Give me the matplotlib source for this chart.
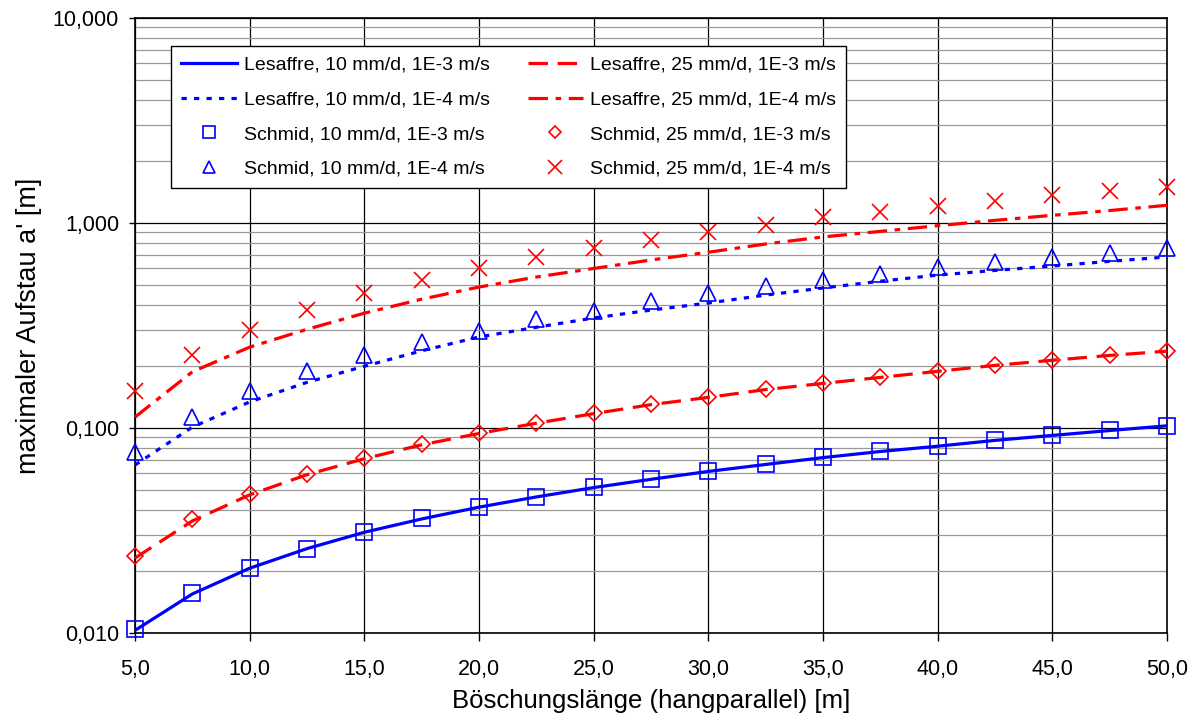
import matplotlib
matplotlib.use("Agg")
import matplotlib.pyplot as plt
from matplotlib.ticker import FixedLocator, FixedFormatter, NullFormatter

plt.rcParams["font.family"] = ["Liberation Sans", "DejaVu Sans"]
plt.rcParams["lines.scale_dashes"] = False

# slope length along the slope [m]
laenge = [5.0, 7.5, 10.0, 12.5, 15.0, 17.5, 20.0, 22.5, 25.0, 27.5,
          30.0, 32.5, 35.0, 37.5, 40.0, 42.5, 45.0, 47.5, 50.0]

# Lesaffre (lines)
les_10_1e3 = [0.0103, 0.0155, 0.0207, 0.0258, 0.0310, 0.0360, 0.0411, 0.0461, 0.0512, 0.0562,
              0.0614, 0.0664, 0.0717, 0.0768, 0.0815, 0.0870, 0.0920, 0.0972, 0.1025]
les_10_1e4 = [0.066, 0.101, 0.134, 0.167, 0.200, 0.238, 0.278, 0.310, 0.344, 0.376,
              0.407, 0.445, 0.482, 0.520, 0.557, 0.587, 0.617, 0.650, 0.683]
les_25_1e3 = [0.0232, 0.0352, 0.0472, 0.0592, 0.0708, 0.0828, 0.0940, 0.1055, 0.1175, 0.1300,
              0.1410, 0.1540, 0.1650, 0.1765, 0.1890, 0.2020, 0.2140, 0.2260, 0.2370]
les_25_1e4 = [0.113, 0.188, 0.248, 0.303, 0.363, 0.425, 0.487, 0.545, 0.600, 0.660,
              0.720, 0.790, 0.855, 0.910, 0.970, 1.030, 1.090, 1.150, 1.220]

# Schmid (markers)
sch_10_1e3 = [0.0105, 0.0157, 0.0207, 0.0258, 0.0310, 0.0362, 0.0412, 0.0462, 0.0515, 0.0564,
              0.0617, 0.0667, 0.0722, 0.0773, 0.0817, 0.0873, 0.0925, 0.0977, 0.1025]
sch_10_1e4 = [0.076, 0.113, 0.151, 0.189, 0.227, 0.264, 0.297, 0.340, 0.372, 0.415,
              0.456, 0.491, 0.527, 0.567, 0.610, 0.642, 0.680, 0.717, 0.755]
sch_25_1e3 = [0.0238, 0.0358, 0.0478, 0.0598, 0.0715, 0.0835, 0.0946, 0.1060, 0.1180, 0.1310,
              0.1417, 0.1550, 0.1660, 0.1770, 0.1900, 0.2030, 0.2150, 0.2270, 0.2380]
sch_25_1e4 = [0.151, 0.227, 0.302, 0.378, 0.453, 0.529, 0.600, 0.680, 0.755, 0.830,
              0.904, 0.980, 1.070, 1.135, 1.210, 1.285, 1.370, 1.430, 1.500]

x_ticks = [5, 10, 15, 20, 25, 30, 35, 40, 45, 50]
x_labels = ["5,0", "10,0", "15,0", "20,0", "25,0", "30,0", "35,0", "40,0", "45,0", "50,0"]
y_ticks = [0.01, 0.1, 1, 10]
y_labels = ["0,010", "0,100", "1,000", "10,000"]

BLUE = "#0000FF"
RED = "#FF0000"

fig = plt.figure(figsize=(12.01, 7.19), dpi=100)
ax = fig.add_axes([0.1124, 0.1196, 0.8593, 0.8554])

lw = 2.3
mk = dict(ls="none", mfc="none", mew=1.2, clip_on=False, zorder=4)
ax.plot(laenge, les_10_1e3, color=BLUE, lw=lw, label="Lesaffre, 10 mm/d, 1E-3 m/s", zorder=3)
ax.plot(laenge, les_10_1e4, color=BLUE, lw=lw, dashes=(3.8, 5.2),
        label="Lesaffre, 10 mm/d, 1E-4 m/s", zorder=3)
ax.plot(laenge, sch_10_1e3, marker="s", ms=11, mec=BLUE,
        label="Schmid, 10 mm/d, 1E-3 m/s", **mk)
ax.plot(laenge, sch_10_1e4, marker="^", ms=11, mec=BLUE,
        label="Schmid, 10 mm/d, 1E-4 m/s", **mk)
ax.plot(laenge, les_25_1e3, color=RED, lw=lw, dashes=(14, 7),
        label="Lesaffre, 25 mm/d, 1E-3 m/s", zorder=3)
ax.plot(laenge, les_25_1e4, color=RED, lw=lw, dashes=(14, 5.5, 4, 5.5),
        label="Lesaffre, 25 mm/d, 1E-4 m/s", zorder=3)
ax.plot(laenge, sch_25_1e3, marker="D", ms=8, mec=RED,
        label="Schmid, 25 mm/d, 1E-3 m/s", **mk)
ax.plot(laenge, sch_25_1e4, marker="x", ms=12, mec=RED,
        label="Schmid, 25 mm/d, 1E-4 m/s", **mk)

ax.set_yscale("log")
ax.set_xlim(5, 50)
ax.set_ylim(0.01, 10)

ax.xaxis.set_major_locator(FixedLocator(x_ticks))
ax.xaxis.set_major_formatter(FixedFormatter(x_labels))
ax.yaxis.set_major_locator(FixedLocator(y_ticks))
ax.yaxis.set_major_formatter(FixedFormatter(y_labels))
minor = [m * 10.0 ** e for e in range(-2, 1) for m in range(2, 10)]
ax.yaxis.set_minor_locator(FixedLocator(minor))
ax.yaxis.set_minor_formatter(NullFormatter())

ax.tick_params(axis="x", which="major", direction="out", length=6, width=1,
               labelsize=15.5, pad=13)
ax.tick_params(axis="y", which="major", direction="out", length=4.5, width=1,
               labelsize=15.5, pad=7)
ax.tick_params(axis="y", which="minor", length=0)

ax.grid(True, which="major", axis="both", color="black", lw=0.9, zorder=0)
ax.grid(True, which="minor", axis="y", color="#999999", lw=0.9, zorder=0)
ax.set_axisbelow(True)
for s in ax.spines.values():
    s.set_linewidth(1.2)

ax.set_xlabel("Böschungslänge (hangparallel) [m]", fontsize=18.5, labelpad=6)
ax.set_ylabel("maximaler Aufstau a' [m]", fontsize=19.5, labelpad=8)

leg = ax.legend(ncol=2, loc="upper left", bbox_to_anchor=(0.0349, 0.9545),
                borderaxespad=0, fontsize=14, frameon=True, fancybox=False,
                edgecolor="black", framealpha=1, handlelength=2.85,
                handletextpad=0.36, columnspacing=1.96, labelspacing=0.88,
                borderpad=0.52, markerscale=0.8)
leg.get_frame().set_linewidth(1.0)

fig.savefig("out.png", dpi=100)
